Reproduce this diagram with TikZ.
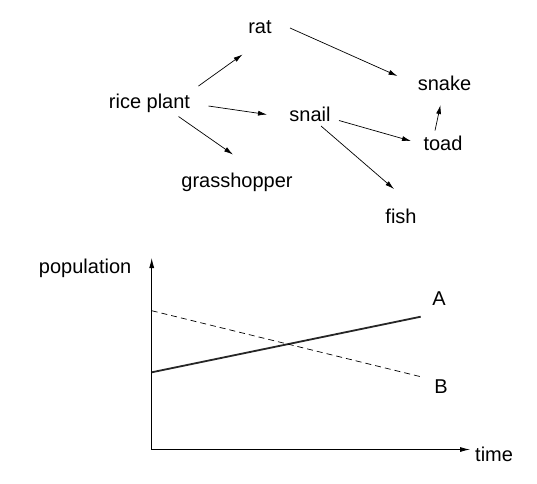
\documentclass[tikz,border=0pt]{standalone}
\usepackage{fontspec}
\setmainfont{Liberation Sans}
\usepackage{tikz}
\usetikzlibrary{arrows.meta,calc}

\begin{document}
\begin{tikzpicture}[x=1pt,y=-1pt,
  every node/.style={font=\fontsize{20}{24}\selectfont,inner sep=0pt,anchor=base},
  feeds/.style={-{Latex[length=9pt,width=5pt]},line width=0.7pt},
  axis/.style={-{Latex[length=10pt,width=5pt]},line width=0.8pt}]
  \useasboundingbox (0,0) rectangle (537,483);
  % food web
  \node (rat)   at (260,33)      {rat};
  \node (snake) at (444.5,90)    {snake};
  \node (rice)  at (149.5,108.5) {rice plant};
  \node (snail) at (310,121.5)   {snail};
  \node (toad)  at (443,150)     {toad};
  \node (grass) at (237,187.5)   {grasshopper};
  \node (fish)  at (401,223)     {fish};
  \draw[feeds] ($(rice.base)+(49,-22.5)$) -- ($(rat.base)+(-17.5,21.5)$);
  \draw[feeds] ($(rat.base)+(30,-5)$) -- ($(snake.base)+(-47,-14)$);
  \draw[feeds] ($(rice.base)+(59,-2.5)$) -- ($(snail.base)+(-43,-7)$);
  \draw[feeds] ($(rice.base)+(29,8)$) -- ($(grass.base)+(-4,-33)$);
  \draw[feeds] ($(snail.base)+(29,-1)$) -- ($(toad.base)+(-32,-9)$);
  \draw[feeds] ($(snail.base)+(11,4.5)$) -- ($(fish.base)+(-7,-34)$);
  \draw[feeds] ($(toad.base)+(-8,-19.5)$) -- ($(snake.base)+(-4,15)$);
  % population graph
  \coordinate (O) at (151.7,449.5);
  \node[anchor=base east] (pop) at (131.5,273.5) {population};
  \node[anchor=base west] (time) at (475,461.5) {time};
  \draw[axis] (O) -- (151.7,258);
  \draw[axis] (O) -- (470,449.5);
  \node (A) at (439,305) {A};
  \node (B) at (441,393) {B};
  \draw[line width=1.8pt,black!85] (151.7,372.3) -- (420.7,316.7);
  \draw[line width=0.7pt,dash pattern=on 6pt off 4pt] (151.7,310.7) -- (420.7,376.7);
\end{tikzpicture}
\end{document}
